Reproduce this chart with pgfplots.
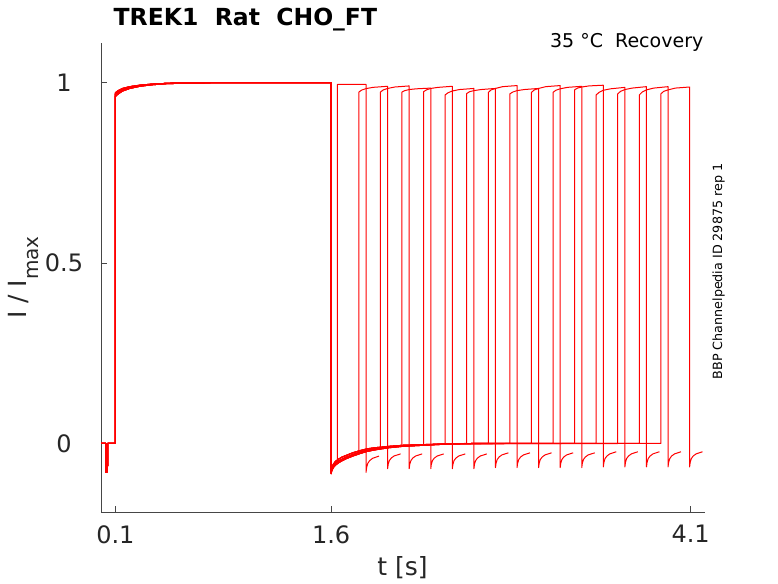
\documentclass[border=0pt]{standalone}
\usepackage{fontspec}
\setmainfont{DejaVu Sans}
\usepackage{pgfplots}
\pgfplotsset{compat=1.18}
\definecolor{axgray}{RGB}{70,70,70}
\definecolor{txtgray}{RGB}{38,38,38}
\definecolor{trace}{RGB}{255,0,0}
\begin{document}
\begin{tikzpicture}
\path[use as bounding box] (0pt,0pt) rectangle (778pt,583pt);
\begin{axis}[
  at={(101pt,71pt)}, anchor=south west,
  scale only axis, width=604pt, height=469pt,
  xmin=0, xmax=4.2, ymin=-0.19, ymax=1.11,
  axis x line=bottom, axis y line=left,
  axis line style={-, draw=axgray, line width=0.8pt},
  xtick={0.1,1.6,4.1}, xticklabels={0.1,1.6,4.1},
  ytick={0,0.5,1}, yticklabels={0,0.5,1},
  tick align=inside, major tick length=6pt,
  tick style={draw=axgray, line width=0.8pt},
  ticklabel style={font=\fontsize{24}{24}\selectfont, text=txtgray},
  xticklabel style={anchor=north, inner sep=0pt, yshift=-13pt},
  yticklabel style={anchor=center, inner sep=0pt, xshift=-37pt},
  /pgf/number format/assume math mode=true,
  every axis plot post/.style={draw=trace, solid, line width=1pt, line join=round, mark=none},
]
% k0
\addplot coordinates {(0,0) (0.034,0) (0.035,-0.08) (0.045,-0.078) (0.046,0) (0.1,0) (0.1,0.968) (0.12,0.974) (0.15,0.981) (0.2,0.987) (0.27,0.992) (0.35,0.995) (0.45,0.998) (0.6,0.9995) (0.8,1) (1.6,1)
 (1.6,-0.082) (1.605,-0.072) (1.615,-0.063) (1.63,-0.055) (1.643,-0.051)
 (1.643,0.995) (1.843,0.995)
 (1.843,-0.080) (1.847,-0.0665) (1.855,-0.0553) (1.868,-0.0476) (1.888,-0.0413) (1.933,-0.035)};
% k1
\addplot coordinates {(0,0) (0.034,0) (0.035,-0.08) (0.045,-0.078) (0.046,0) (0.1,0) (0.1,0.962) (0.12,0.969) (0.15,0.977) (0.2,0.984) (0.27,0.990) (0.35,0.994) (0.45,0.997) (0.6,0.999) (0.8,1) (1.6,1)
 (1.6,-0.080) (1.605,-0.068) (1.615,-0.058) (1.63,-0.050) (1.65,-0.044) (1.675,-0.038) (1.7,-0.034) (1.75,-0.026) (1.793,-0.021)
 (1.793,0.974) (1.813,0.9796) (1.843,0.9836) (1.893,0.9871) (1.993,0.990)
 (1.993,-0.070) (1.997,-0.0577) (2.005,-0.0475) (2.018,-0.0405) (2.038,-0.0347) (2.083,-0.029)};
% k2
\addplot coordinates {(0,0) (0.034,0) (0.035,-0.08) (0.045,-0.078) (0.046,0) (0.1,0) (0.1,0.972) (0.12,0.978) (0.15,0.984) (0.2,0.989) (0.27,0.993) (0.35,0.996) (0.45,0.998) (0.6,1) (0.8,1) (1.6,1)
 (1.6,-0.084) (1.605,-0.075) (1.615,-0.067) (1.63,-0.060) (1.65,-0.054) (1.675,-0.048) (1.7,-0.043) (1.75,-0.035) (1.8,-0.028) (1.85,-0.022) (1.9,-0.018) (1.943,-0.015)
 (1.943,0.974) (1.963,0.980) (1.993,0.984) (2.043,0.988) (2.143,0.991)
 (2.143,-0.070) (2.147,-0.0577) (2.155,-0.0475) (2.168,-0.0405) (2.188,-0.0347) (2.233,-0.029)};
% k3
\addplot coordinates {(0,0) (0.034,0) (0.035,-0.08) (0.045,-0.078) (0.046,0) (0.1,0) (0.1,0.968) (0.12,0.974) (0.15,0.981) (0.2,0.987) (0.27,0.992) (0.35,0.995) (0.45,0.998) (0.6,0.9995) (0.8,1) (1.6,1)
 (1.6,-0.082) (1.605,-0.072) (1.615,-0.063) (1.63,-0.055) (1.65,-0.049) (1.675,-0.044) (1.7,-0.039) (1.75,-0.031) (1.8,-0.024) (1.85,-0.019) (1.9,-0.015) (2.0,-0.010) (2.093,-0.007)
 (2.093,0.974) (2.113,0.978) (2.143,0.981) (2.193,0.983) (2.293,0.985)
 (2.293,-0.070) (2.297,-0.0577) (2.305,-0.0475) (2.318,-0.0405) (2.338,-0.0347) (2.383,-0.029)};
% k4
\addplot coordinates {(0,0) (0.034,0) (0.035,-0.08) (0.045,-0.078) (0.046,0) (0.1,0) (0.1,0.962) (0.12,0.969) (0.15,0.977) (0.2,0.984) (0.27,0.990) (0.35,0.994) (0.45,0.997) (0.6,0.999) (0.8,1) (1.6,1)
 (1.6,-0.080) (1.605,-0.068) (1.615,-0.058) (1.63,-0.050) (1.65,-0.044) (1.675,-0.038) (1.7,-0.034) (1.75,-0.026) (1.8,-0.020) (1.85,-0.015) (1.9,-0.012) (2.0,-0.008) (2.1,-0.005) (2.243,-0.003)
 (2.243,0.975) (2.263,0.980) (2.293,0.984) (2.343,0.987) (2.443,0.990)
 (2.443,-0.070) (2.447,-0.0577) (2.455,-0.0475) (2.468,-0.0405) (2.488,-0.0347) (2.533,-0.029)};
% k5
\addplot coordinates {(0,0) (0.034,0) (0.035,-0.08) (0.045,-0.078) (0.046,0) (0.1,0) (0.1,0.972) (0.12,0.978) (0.15,0.984) (0.2,0.989) (0.27,0.993) (0.35,0.996) (0.45,0.998) (0.6,1) (0.8,1) (1.6,1)
 (1.6,-0.084) (1.605,-0.075) (1.615,-0.067) (1.63,-0.060) (1.65,-0.054) (1.675,-0.048) (1.7,-0.043) (1.75,-0.035) (1.8,-0.028) (1.85,-0.022) (1.9,-0.018) (2.0,-0.012) (2.1,-0.008) (2.25,-0.005) (2.393,-0.002)
 (2.393,0.966) (2.413,0.972) (2.443,0.977) (2.493,0.981) (2.593,0.984)
 (2.593,-0.070) (2.597,-0.0577) (2.605,-0.0475) (2.618,-0.0405) (2.638,-0.0347) (2.683,-0.029)};
% k6
\addplot coordinates {(0,0) (0.034,0) (0.035,-0.08) (0.045,-0.078) (0.046,0) (0.1,0) (0.1,0.968) (0.12,0.974) (0.15,0.981) (0.2,0.987) (0.27,0.992) (0.35,0.995) (0.45,0.998) (0.6,0.9995) (0.8,1) (1.6,1)
 (1.6,-0.082) (1.605,-0.072) (1.615,-0.063) (1.63,-0.055) (1.65,-0.049) (1.675,-0.044) (1.7,-0.039) (1.75,-0.031) (1.8,-0.024) (1.85,-0.019) (1.9,-0.015) (2.0,-0.010) (2.1,-0.007) (2.25,-0.004) (2.4,-0.001) (2.543,0)
 (2.543,0.970) (2.563,0.975) (2.593,0.978) (2.643,0.981) (2.743,0.984)
 (2.743,-0.067) (2.747,-0.0547) (2.755,-0.0445) (2.768,-0.0375) (2.788,-0.0317) (2.833,-0.026)};
% k7
\addplot coordinates {(0,0) (0.034,0) (0.035,-0.08) (0.045,-0.078) (0.046,0) (0.1,0) (0.1,0.962) (0.12,0.969) (0.15,0.977) (0.2,0.984) (0.27,0.990) (0.35,0.994) (0.45,0.997) (0.6,0.999) (0.8,1) (1.6,1)
 (1.6,-0.080) (1.605,-0.068) (1.615,-0.058) (1.63,-0.050) (1.65,-0.044) (1.675,-0.038) (1.7,-0.034) (1.75,-0.026) (1.8,-0.020) (1.85,-0.015) (1.9,-0.012) (2.0,-0.008) (2.1,-0.005) (2.25,-0.003) (2.4,-0.001) (2.6,0) (2.693,0)
 (2.693,0.973) (2.713,0.980) (2.743,0.984) (2.793,0.989) (2.893,0.992)
 (2.893,-0.067) (2.897,-0.0547) (2.905,-0.0445) (2.918,-0.0375) (2.938,-0.0317) (2.983,-0.026)};
% k8
\addplot coordinates {(0,0) (0.034,0) (0.035,-0.08) (0.045,-0.078) (0.046,0) (0.1,0) (0.1,0.972) (0.12,0.978) (0.15,0.984) (0.2,0.989) (0.27,0.993) (0.35,0.996) (0.45,0.998) (0.6,1) (0.8,1) (1.6,1)
 (1.6,-0.084) (1.605,-0.075) (1.615,-0.067) (1.63,-0.060) (1.65,-0.054) (1.675,-0.048) (1.7,-0.043) (1.75,-0.035) (1.8,-0.028) (1.85,-0.022) (1.9,-0.018) (2.0,-0.012) (2.1,-0.008) (2.25,-0.005) (2.4,-0.002) (2.6,-0.001) (2.843,0)
 (2.843,0.969) (2.863,0.974) (2.893,0.978) (2.943,0.981) (3.043,0.984)
 (3.043,-0.067) (3.047,-0.0547) (3.055,-0.0445) (3.068,-0.0375) (3.088,-0.0317) (3.133,-0.026)};
% k9
\addplot coordinates {(0,0) (0.034,0) (0.035,-0.08) (0.045,-0.078) (0.046,0) (0.1,0) (0.1,0.968) (0.12,0.974) (0.15,0.981) (0.2,0.987) (0.27,0.992) (0.35,0.995) (0.45,0.998) (0.6,0.9995) (0.8,1) (1.6,1)
 (1.6,-0.082) (1.605,-0.072) (1.615,-0.063) (1.63,-0.055) (1.65,-0.049) (1.675,-0.044) (1.7,-0.039) (1.75,-0.031) (1.8,-0.024) (1.85,-0.019) (1.9,-0.015) (2.0,-0.010) (2.1,-0.007) (2.25,-0.004) (2.4,-0.001) (2.6,0) (2.993,0)
 (2.993,0.973) (3.013,0.980) (3.043,0.984) (3.093,0.989) (3.193,0.992)
 (3.193,-0.067) (3.197,-0.0547) (3.205,-0.0445) (3.218,-0.0375) (3.238,-0.0317) (3.283,-0.026)};
% k10
\addplot coordinates {(0,0) (0.034,0) (0.035,-0.08) (0.045,-0.078) (0.046,0) (0.1,0) (0.1,0.962) (0.12,0.969) (0.15,0.977) (0.2,0.984) (0.27,0.990) (0.35,0.994) (0.45,0.997) (0.6,0.999) (0.8,1) (1.6,1)
 (1.6,-0.080) (1.605,-0.068) (1.615,-0.058) (1.63,-0.050) (1.65,-0.044) (1.675,-0.038) (1.7,-0.034) (1.75,-0.026) (1.8,-0.020) (1.85,-0.015) (1.9,-0.012) (2.0,-0.008) (2.1,-0.005) (2.25,-0.003) (2.4,-0.001) (2.6,0) (3.143,0)
 (3.143,0.973) (3.163,0.979) (3.193,0.983) (3.243,0.987) (3.343,0.990)
 (3.343,-0.067) (3.347,-0.0547) (3.355,-0.0445) (3.368,-0.0375) (3.388,-0.0317) (3.433,-0.026)};
% k11
\addplot coordinates {(0,0) (0.034,0) (0.035,-0.08) (0.045,-0.078) (0.046,0) (0.1,0) (0.1,0.972) (0.12,0.978) (0.15,0.984) (0.2,0.989) (0.27,0.993) (0.35,0.996) (0.45,0.998) (0.6,1) (0.8,1) (1.6,1)
 (1.6,-0.084) (1.605,-0.075) (1.615,-0.067) (1.63,-0.060) (1.65,-0.054) (1.675,-0.048) (1.7,-0.043) (1.75,-0.035) (1.8,-0.028) (1.85,-0.022) (1.9,-0.018) (2.0,-0.012) (2.1,-0.008) (2.25,-0.005) (2.4,-0.002) (2.6,-0.001) (3.293,0)
 (3.293,0.980) (3.313,0.985) (3.343,0.988) (3.393,0.991) (3.493,0.993)
 (3.493,-0.065) (3.497,-0.0524) (3.505,-0.0419) (3.518,-0.0348) (3.538,-0.0289) (3.583,-0.023)};
% k12
\addplot coordinates {(0,0) (0.034,0) (0.035,-0.08) (0.045,-0.078) (0.046,0) (0.1,0) (0.1,0.968) (0.12,0.974) (0.15,0.981) (0.2,0.987) (0.27,0.992) (0.35,0.995) (0.45,0.998) (0.6,0.9995) (0.8,1) (1.6,1)
 (1.6,-0.082) (1.605,-0.072) (1.615,-0.063) (1.63,-0.055) (1.65,-0.049) (1.675,-0.044) (1.7,-0.039) (1.75,-0.031) (1.8,-0.024) (1.85,-0.019) (1.9,-0.015) (2.0,-0.010) (2.1,-0.007) (2.25,-0.004) (2.4,-0.001) (2.6,0) (3.443,0)
 (3.443,0.966) (3.463,0.973) (3.493,0.979) (3.543,0.983) (3.643,0.987)
 (3.643,-0.065) (3.647,-0.0524) (3.655,-0.0419) (3.668,-0.0348) (3.688,-0.0289) (3.733,-0.023)};
% k13
\addplot coordinates {(0,0) (0.034,0) (0.035,-0.08) (0.045,-0.078) (0.046,0) (0.1,0) (0.1,0.962) (0.12,0.969) (0.15,0.977) (0.2,0.984) (0.27,0.990) (0.35,0.994) (0.45,0.997) (0.6,0.999) (0.8,1) (1.6,1)
 (1.6,-0.080) (1.605,-0.068) (1.615,-0.058) (1.63,-0.050) (1.65,-0.044) (1.675,-0.038) (1.7,-0.034) (1.75,-0.026) (1.8,-0.020) (1.85,-0.015) (1.9,-0.012) (2.0,-0.008) (2.1,-0.005) (2.25,-0.003) (2.4,-0.001) (2.6,0) (3.593,0)
 (3.593,0.969) (3.613,0.976) (3.643,0.981) (3.693,0.985) (3.793,0.989)
 (3.793,-0.065) (3.797,-0.0524) (3.805,-0.0419) (3.818,-0.0348) (3.838,-0.0289) (3.883,-0.023)};
% k14
\addplot coordinates {(0,0) (0.034,0) (0.035,-0.08) (0.045,-0.078) (0.046,0) (0.1,0) (0.1,0.972) (0.12,0.978) (0.15,0.984) (0.2,0.989) (0.27,0.993) (0.35,0.996) (0.45,0.998) (0.6,1) (0.8,1) (1.6,1)
 (1.6,-0.084) (1.605,-0.075) (1.615,-0.067) (1.63,-0.060) (1.65,-0.054) (1.675,-0.048) (1.7,-0.043) (1.75,-0.035) (1.8,-0.028) (1.85,-0.022) (1.9,-0.018) (2.0,-0.012) (2.1,-0.008) (2.25,-0.005) (2.4,-0.002) (2.6,-0.001) (3.743,0)
 (3.743,0.966) (3.763,0.974) (3.793,0.980) (3.843,0.985) (3.943,0.989)
 (3.943,-0.065) (3.947,-0.0524) (3.955,-0.0419) (3.968,-0.0348) (3.988,-0.0289) (4.033,-0.023)};
% k15
\addplot coordinates {(0,0) (0.034,0) (0.035,-0.08) (0.045,-0.078) (0.046,0) (0.1,0) (0.1,0.968) (0.12,0.974) (0.15,0.981) (0.2,0.987) (0.27,0.992) (0.35,0.995) (0.45,0.998) (0.6,0.9995) (0.8,1) (1.6,1)
 (1.6,-0.082) (1.605,-0.072) (1.615,-0.063) (1.63,-0.055) (1.65,-0.049) (1.675,-0.044) (1.7,-0.039) (1.75,-0.031) (1.8,-0.024) (1.85,-0.019) (1.9,-0.015) (2.0,-0.010) (2.1,-0.007) (2.25,-0.004) (2.4,-0.001) (2.6,0) (3.893,0)
 (3.893,0.969) (3.913,0.976) (3.943,0.980) (3.993,0.985) (4.093,0.988)
 (4.093,-0.065) (4.097,-0.0524) (4.105,-0.0419) (4.118,-0.0348) (4.138,-0.0289) (4.183,-0.023)};
\end{axis}
\node[anchor=base west, inner sep=0pt, font=\fontsize{23.5}{23.5}\selectfont\bfseries] at (113.5pt,557pt) {TREK1\ \ Rat\ \ CHO\_FT};
\node[anchor=base east, inner sep=0pt, font=\fontsize{19}{19}\selectfont] at (703.5pt,535.7pt) {35 °C\ \ Recovery};
\node[rotate=90, anchor=base, inner sep=0pt, font=\fontsize{25}{25}\selectfont, text=txtgray] at (26pt,305.5pt) {I / I\raisebox{-13pt}{\fontsize{20}{20}\selectfont max}};
\node[anchor=base, inner sep=0pt, font=\fontsize{25}{25}\selectfont, text=txtgray] at (402.5pt,8pt) {t [s]};
\node[rotate=90, anchor=base, inner sep=0pt, font=\fontsize{12.7}{12.7}\selectfont] at (722pt,311.5pt) {BBP Channelpedia ID 29875 rep 1};
\end{tikzpicture}
\end{document}
